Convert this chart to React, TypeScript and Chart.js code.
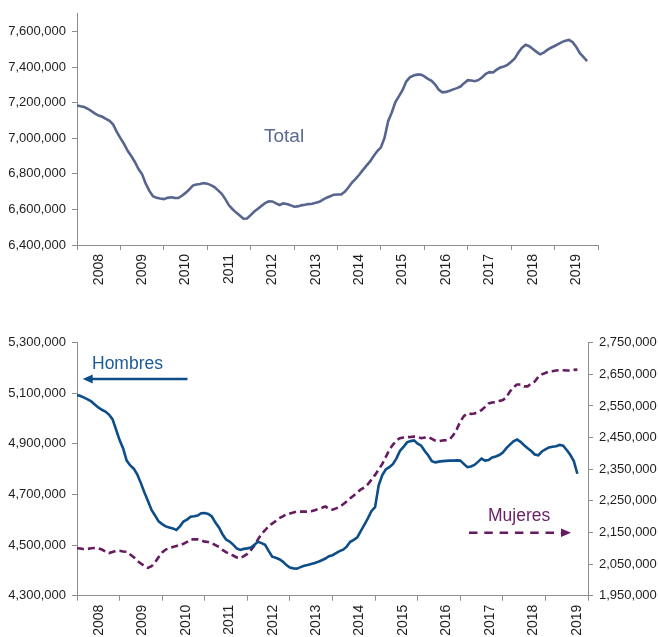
import React, { useEffect, useRef } from 'react';
import { Chart, registerables } from 'chart.js';

Chart.register(...registerables);

// ---------- DATA ----------
const years = ['2008', '2009', '2010', '2011', '2012', '2013', '2014', '2015', '2016', '2017', '2018', '2019'];

// Monthly values (thousands), Jan 2008 .. Oct 2019
const totalK = [
  7185, 7180, 7176, 7166, 7153, 7139, 7128, 7121, 7109, 7098, 7077, 7036,
  7001, 6968, 6930, 6900, 6867, 6827, 6797, 6745, 6704, 6674, 6665, 6661,
  6658, 6665, 6668, 6665, 6664, 6677, 6693, 6712, 6734, 6740, 6743, 6748,
  6745, 6737, 6726, 6707, 6688, 6658, 6623, 6601, 6582, 6566, 6548, 6549,
  6568, 6588, 6604, 6620, 6636, 6646, 6645, 6634, 6625, 6634, 6631, 6624,
  6615, 6617, 6623, 6626, 6630, 6632, 6638, 6643, 6655, 6666, 6674, 6683,
  6684, 6684, 6699, 6723, 6751, 6772, 6795, 6821, 6846, 6870, 6900, 6928,
  6949, 7003, 7096, 7145, 7204, 7237, 7272, 7319, 7343, 7353, 7358, 7359,
  7348, 7334, 7323, 7302, 7273, 7258, 7261, 7267, 7275, 7282, 7291, 7310,
  7327, 7325, 7321, 7328, 7343, 7363, 7372, 7370, 7386, 7398, 7404, 7413,
  7430, 7449, 7482, 7509, 7526, 7518, 7502, 7486, 7472, 7482, 7497, 7509,
  7519, 7530, 7541, 7548, 7553, 7540, 7513, 7479, 7457, 7434,
];

const hombresK = [
  5093, 5089, 5083, 5076, 5068, 5056, 5044, 5035, 5028, 5016, 4998, 4957,
  4915, 4882, 4834, 4815, 4802, 4779, 4745, 4708, 4674, 4639, 4617, 4594,
  4583, 4574, 4570, 4566, 4560, 4574, 4593, 4601, 4612, 4614, 4617, 4626,
  4627, 4623, 4613, 4589, 4570, 4543, 4522, 4514, 4502, 4487, 4481, 4485,
  4487, 4490, 4501, 4513, 4508, 4501, 4477, 4454, 4450, 4444, 4435, 4421,
  4411, 4408, 4407, 4413, 4418, 4421, 4425, 4429, 4434, 4440, 4447, 4456,
  4460, 4468, 4476, 4482, 4494, 4513, 4521, 4531, 4556, 4581, 4607, 4635,
  4650, 4735, 4776, 4799, 4808, 4820, 4842, 4872, 4888, 4906, 4911, 4914,
  4901, 4893, 4872, 4854, 4832, 4827, 4830, 4832, 4833, 4834, 4834, 4835,
  4834, 4821, 4808, 4811, 4817, 4829, 4842, 4834, 4836, 4846, 4850, 4856,
  4866, 4883, 4897, 4910, 4917, 4908, 4895, 4883, 4872, 4858, 4855, 4870,
  4878, 4886, 4889, 4891, 4896, 4893, 4876, 4857, 4832, 4782,
];

const mujeresK = [
  2100, 2099, 2097, 2098, 2100, 2101, 2100, 2096, 2090, 2085, 2088, 2092,
  2092, 2090, 2089, 2080, 2072, 2060, 2052, 2044, 2038, 2043, 2055, 2072,
  2087, 2096, 2100, 2104, 2107, 2110, 2114, 2120, 2128, 2128, 2128, 2125,
  2121, 2120, 2116, 2110, 2104, 2095, 2088, 2082, 2077, 2071, 2069, 2075,
  2082, 2094, 2109, 2128, 2145, 2157, 2170, 2178, 2186, 2195, 2201, 2207,
  2210, 2213, 2216, 2216, 2216, 2216, 2217, 2220, 2225, 2228, 2232, 2224,
  2222, 2226, 2231, 2239, 2248, 2258, 2267, 2277, 2286, 2292, 2303, 2317,
  2332, 2349, 2366, 2388, 2411, 2427, 2441, 2448, 2450, 2451, 2452, 2453,
  2452, 2448, 2450, 2452, 2446, 2440, 2439, 2441, 2442, 2444, 2457, 2476,
  2500, 2518, 2526, 2525, 2526, 2531, 2537, 2547, 2558, 2561, 2562, 2566,
  2569, 2577, 2596, 2609, 2618, 2618, 2612, 2612, 2621, 2627, 2642, 2650,
  2654, 2659, 2660, 2662, 2663, 2663, 2662, 2662, 2664, 2665,
];

const totalTicks = [6400000, 6600000, 6800000, 7000000, 7200000, 7400000, 7600000];
const hombresTicks = [4300000, 4500000, 4700000, 4900000, 5100000, 5300000];
const mujeresTicks = [1950000, 2050000, 2150000, 2250000, 2350000, 2450000, 2550000, 2650000, 2750000];

// ---------- STYLE ----------
const FONT = "'Liberation Sans', Arial, Helvetica, sans-serif";
const AXIS = '#8e8e8e';
const TXT = '#1e1e1e';
const TOTAL_COLOR = '#58668f';
const HOMBRES_COLOR = '#0d4e89';
const MUJERES_COLOR = '#661a5f';

Chart.defaults.font.family = FONT;

const fmt = (v: number) => Math.round(v).toLocaleString('en-US');
const toPoints = (arr: number[]) => arr.map((v, i) => ({ x: i, y: v * 1000 }));

function xAxis(labelStart: number, labelStep: number, height: number) {
  return {
    type: 'linear',
    position: 'bottom',
    min: 0,
    max: years.length * 12,
    afterBuildTicks: (s: any) => {
      const t: any[] = [];
      for (let m = 0; m <= years.length * 12; m += 12) t.push({ value: m });
      years.forEach((y, k) => t.push({ value: labelStart + k * labelStep, year: y }));
      t.sort((a, b) => a.value - b.value);
      s.ticks = t;
    },
    afterFit: (s: any) => {
      s.height = height;
    },
    ticks: {
      autoSkip: false,
      maxRotation: 90,
      minRotation: 90,
      padding: 4,
      color: TXT,
      font: { family: FONT, size: 14 },
      callback: (_v: any, i: number, ticks: any[]) => (ticks[i] && ticks[i].year) || '',
    },
    grid: {
      drawOnChartArea: false,
      tickLength: 5,
      tickWidth: 1,
      tickColor: (ctx: any) => (ctx.tick && ctx.tick.year ? 'rgba(0,0,0,0)' : AXIS),
    },
    border: { display: true, color: AXIS, width: 1 },
  };
}

function yAxis(min: number, max: number, ticks: number[], position: string, width: number, extra: any = {}) {
  return {
    type: 'linear',
    position,
    min,
    max,
    afterBuildTicks: (s: any) => {
      s.ticks = ticks.map((v) => ({ value: v }));
    },
    afterFit: (s: any) => {
      s.width = width;
    },
    ticks: {
      color: TXT,
      padding: 6,
      font: { family: FONT, size: 13 },
      callback: (v: any) => fmt(Number(v)),
    },
    grid: { drawOnChartArea: false, tickLength: 5, tickColor: AXIS, color: AXIS },
    border: { display: true, color: AXIS, width: 1 },
    ...extra,
  };
}

const topAnno = {
  id: 'topAnno',
  afterDraw(chart: any) {
    const ctx = chart.ctx;
    ctx.save();
    ctx.font = `19px ${FONT}`;
    ctx.fillStyle = '#5b6994';
    ctx.textBaseline = 'alphabetic';
    ctx.textAlign = 'left';
    ctx.fillText('Total', 264, 142);
    ctx.restore();
  },
};

const bottomAnno = {
  id: 'bottomAnno',
  afterDraw(chart: any) {
    const ctx = chart.ctx;
    ctx.save();
    ctx.textBaseline = 'alphabetic';
    ctx.textAlign = 'left';
    ctx.font = `17.5px ${FONT}`;
    // Hombres label + arrow (left)
    ctx.fillStyle = '#1a5a96';
    ctx.fillText('Hombres', 92, 69.3);
    ctx.strokeStyle = HOMBRES_COLOR;
    ctx.fillStyle = HOMBRES_COLOR;
    ctx.lineWidth = 2.5;
    ctx.beginPath();
    ctx.moveTo(187.5, 79);
    ctx.lineTo(91, 79);
    ctx.stroke();
    ctx.beginPath();
    ctx.moveTo(82.7, 79);
    ctx.lineTo(92.7, 74.6);
    ctx.lineTo(92.7, 83.4);
    ctx.closePath();
    ctx.fill();
    // Mujeres label + dashed arrow (right)
    ctx.fillStyle = '#6a1f66';
    ctx.fillText('Mujeres', 488, 221);
    ctx.strokeStyle = MUJERES_COLOR;
    ctx.fillStyle = MUJERES_COLOR;
    ctx.setLineDash([8.5, 6.8]);
    ctx.beginPath();
    ctx.moveTo(469, 232.7);
    ctx.lineTo(561, 232.7);
    ctx.stroke();
    ctx.setLineDash([]);
    ctx.beginPath();
    ctx.moveTo(571, 232.7);
    ctx.lineTo(561, 228.4);
    ctx.lineTo(561, 237);
    ctx.closePath();
    ctx.fill();
    ctx.restore();
  },
};

const topConfig: any = {
  type: 'line',
  data: {
    datasets: [
      {
        label: 'Total',
        data: toPoints(totalK),
        borderColor: TOTAL_COLOR,
        borderWidth: 2.6,
        pointRadius: 0,
        tension: 0,
        fill: false,
      },
    ],
  },
  options: {
    responsive: false,
    animation: false,
    devicePixelRatio: 1,
    layout: { padding: { top: 6, right: 60, bottom: 0, left: 0 } },
    plugins: { legend: { display: false }, tooltip: { enabled: false } },
    scales: {
      x: xAxis(6, 12, 55),
      y: yAxis(6400000, 7700000, totalTicks, 'left', 77),
    },
  },
  plugins: [topAnno],
};

const bottomConfig: any = {
  type: 'line',
  data: {
    datasets: [
      {
        label: 'Hombres',
        data: toPoints(hombresK),
        borderColor: HOMBRES_COLOR,
        borderWidth: 2.6,
        pointRadius: 0,
        tension: 0,
        fill: false,
        yAxisID: 'y',
      },
      {
        label: 'Mujeres',
        data: toPoints(mujeresK),
        borderColor: MUJERES_COLOR,
        borderWidth: 2.6,
        borderDash: [7, 4],
        pointRadius: 0,
        tension: 0,
        fill: false,
        yAxisID: 'y1',
      },
    ],
  },
  options: {
    responsive: false,
    animation: false,
    devicePixelRatio: 1,
    layout: { padding: { top: 42.7, right: 0, bottom: 0, left: 0 } },
    plugins: { legend: { display: false }, tooltip: { enabled: false } },
    scales: {
      x: xAxis(6.2, 12.24, 41.3),
      y: yAxis(4300000, 5300000, hombresTicks, 'left', 77),
      y1: yAxis(1950000, 2750000, mujeresTicks, 'right', 70),
    },
  },
  plugins: [bottomAnno],
};

function ChartCanvas({ config, width, height, top }: { config: any; width: number; height: number; top: number }) {
  const ref = useRef<HTMLCanvasElement | null>(null);
  useEffect(() => {
    if (!ref.current) return;
    const c = new Chart(ref.current, config);
    return () => c.destroy();
  }, [config]);
  return (
    <canvas
      ref={ref}
      width={width}
      height={height}
      style={{ position: 'absolute', left: 0, top, width, height, display: 'block' }}
    />
  );
}

export default function App() {
  return (
    <div style={{ position: 'absolute', left: 0, top: 0, width: 658, height: 637, background: '#fff', overflow: 'hidden' }}>
      <ChartCanvas config={topConfig} width={658} height={300} top={0} />
      <ChartCanvas config={bottomConfig} width={658} height={337} top={300} />
    </div>
  );
}
